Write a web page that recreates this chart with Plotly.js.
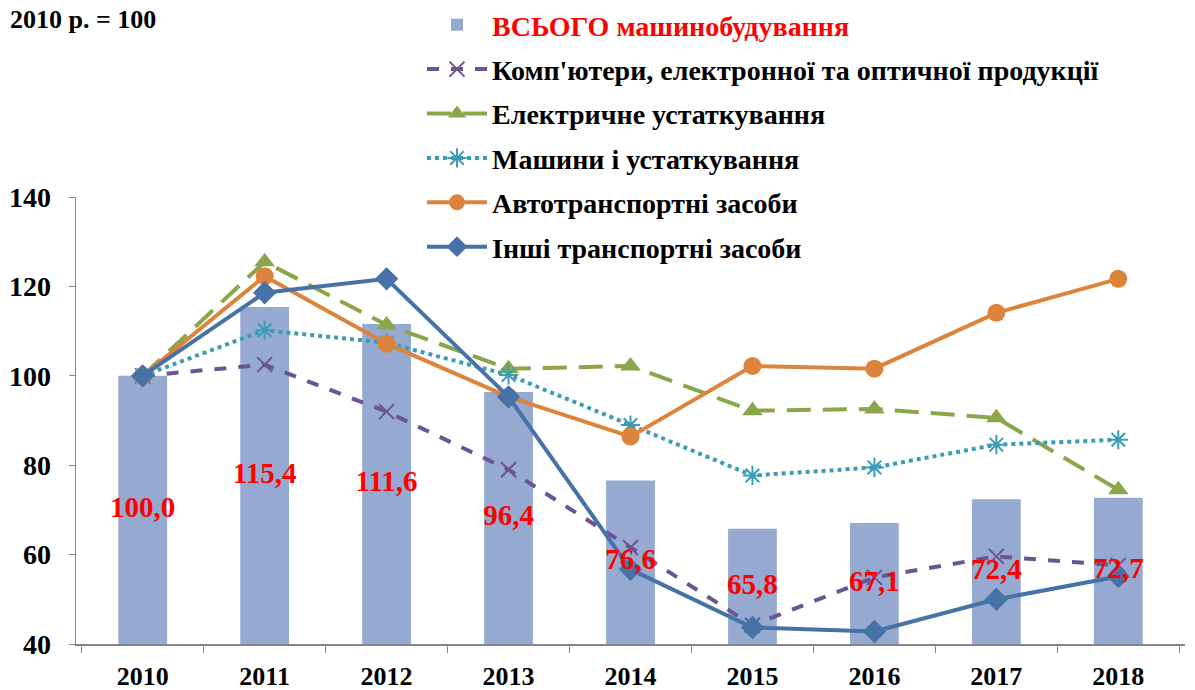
<!DOCTYPE html>
<html>
<head>
<meta charset="utf-8">
<script src="https://cdn.plot.ly/plotly-3.0.1.min.js"></script>
<style>html,body{margin:0;padding:0;background:#fff;}#chart{width:1195px;height:690px;}</style>
</head>
<body>
<div id="chart"></div>
<script>
const years = ['2010','2011','2012','2013','2014','2015','2016','2017','2018'];
const totalMachinery = [100.0, 115.4, 111.6, 96.4, 76.6, 65.8, 67.1, 72.4, 72.7];
const computers = [100, 102.5, 92.0, 79.0, 61.6, 44.2, 54.9, 59.6, 57.6];
const electrical = [100, 125.5, 111.4, 101.6, 102.2, 92.2, 92.6, 90.6, 74.5];
const machines = [100, 110.2, 107.4, 100.2, 89.0, 77.7, 79.5, 84.6, 85.7];
const motorVehicles = [100, 122.3, 107.2, 95.3, 86.4, 102.2, 101.6, 114.1, 121.7];
const otherTransport = [100, 118.6, 121.7, 95.3, 56.7, 43.7, 42.8, 50.0, 55.1];
const names = [
  '<span style="color:#ff0000">ВСЬОГО машинобудування</span>',
  "Комп'ютери, електронної та оптичної продукції",
  'Електричне устаткування',
  'Машини і устаткування',
  'Автотранспортні засоби',
  'Інші транспортні засоби'
];
const yMin = 40, yMax = 140;
const serif = 'Liberation Serif';

const labelText = totalMachinery.map(v => v.toFixed(1).replace('.', ','));
const labelY = totalMachinery.map(v => (yMin + v) / 2);

const traces = [
  {type:'bar', x:years, y:totalMachinery, name:names[0], legendgroup:'g0',
   marker:{color:'#95a9d1'}, width:0.4},
  {type:'scatter', mode:'lines+markers', x:years, y:computers, name:names[1], legendgroup:'g1',
   line:{color:'#6a5592', width:4, dash:'dash'},
   marker:{symbol:'x-thin-open', size:15, color:'#6a5592', line:{width:2, color:'#6a5592'}}},
  {type:'scatter', mode:'lines+markers', x:years, y:electrical, name:names[2], legendgroup:'g2',
   line:{color:'#8aa64a', width:4, dash:'24px,12px'},
   marker:{symbol:'triangle-up', size:18, color:'#8aa64a'}},
  {type:'scatter', mode:'lines+markers', x:years, y:machines, name:names[3], legendgroup:'g3',
   line:{color:'#3d9cb5', width:4, dash:'dot'},
   marker:{symbol:'asterisk-open', size:16, color:'#3d9cb5', line:{width:2, color:'#3d9cb5'}}},
  {type:'scatter', mode:'lines+markers', x:years, y:motorVehicles, name:names[4], legendgroup:'g4',
   line:{color:'#dd843c', width:4},
   marker:{symbol:'circle', size:18, color:'#dd843c'}},
  {type:'scatter', mode:'lines+markers', x:years, y:otherTransport, name:names[5], legendgroup:'g5',
   line:{color:'#4672a8', width:4},
   marker:{symbol:'diamond', size:18, color:'#4672a8'}},
  {type:'scatter', mode:'text', x:years, y:labelY, text:labelText, showlegend:false,
   textposition:'middle center', textfont:{family:serif, size:29, color:'#ff0000', weight:'bold'},
   cliponaxis:false}
];

const layout = {
  width:1195, height:690,
  margin:{l:76, r:10, t:0, b:46},
  paper_bgcolor:'#fff', plot_bgcolor:'#fff',
  font:{family:serif, color:'#000'},
  hovermode:false,
  showlegend:true,
  legend:{x:0.312, xanchor:'left', y:1.0, yanchor:'top', bgcolor:'rgba(0,0,0,0)',
          traceorder:'grouped', tracegroupgap:5, itemwidth:60,
          font:{family:serif, size:28, color:'#000', weight:'bold'}},
  xaxis:{type:'category', showgrid:false, showline:true, linecolor:'#868686', linewidth:1.5,
         ticks:'outside', tickson:'boundaries', ticklen:7, tickcolor:'#868686', ticklabelstandoff:8,
         tickfont:{family:serif, size:26, weight:'bold'}, zeroline:false, fixedrange:true},
  yaxis:{range:[yMin, yMax], domain:[0, 0.694], dtick:20, showgrid:false, showline:true, linecolor:'#868686', linewidth:1.5,
         ticks:'outside', ticklen:6, tickcolor:'#868686', ticklabelstandoff:12,
         tickfont:{family:serif, size:28, weight:'bold'}, zeroline:false, fixedrange:true},
  annotations:[
    {text:'2010 р. = 100', xref:'paper', yref:'paper', x:-0.061, y:0.969, xanchor:'left', yanchor:'middle',
     showarrow:false, font:{family:serif, size:26, weight:'bold', color:'#000'}}
  ]
};

Plotly.newPlot('chart', traces, layout, {staticPlot:true, displayModeBar:false});
</script>
</body>
</html>
